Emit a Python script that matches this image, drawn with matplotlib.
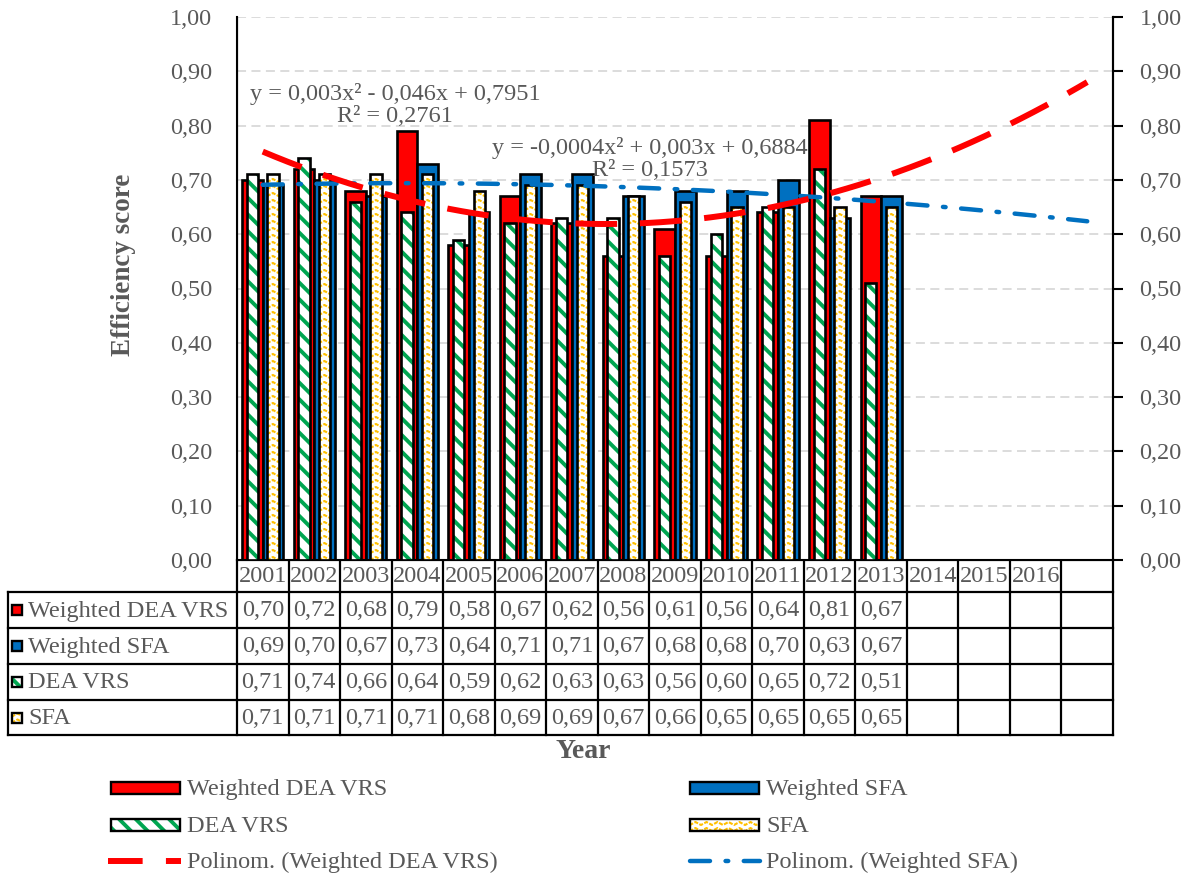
import numpy as np
import matplotlib.pyplot as plt
from matplotlib.patches import Rectangle

plt.rcParams['font.family'] = ['Liberation Serif', 'DejaVu Serif']
plt.rcParams['hatch.linewidth'] = 2.8

# data
years = [str(y) for y in range(2001, 2017)]
w_dea = [0.70, 0.72, 0.68, 0.79, 0.58, 0.67, 0.62, 0.56, 0.61, 0.56, 0.64, 0.81, 0.67]
w_sfa = [0.69, 0.70, 0.67, 0.73, 0.64, 0.71, 0.71, 0.67, 0.68, 0.68, 0.70, 0.63, 0.67]
dea = [0.71, 0.74, 0.66, 0.64, 0.59, 0.62, 0.63, 0.63, 0.56, 0.60, 0.65, 0.72, 0.51]
sfa = [0.71, 0.71, 0.71, 0.71, 0.68, 0.69, 0.69, 0.67, 0.66, 0.65, 0.65, 0.65, 0.65]
dea_trend = [0.003, -0.046, 0.7951]
sfa_trend = [-0.0004, 0.003, 0.6884]
names = ['Weighted DEA VRS', 'Weighted SFA', 'DEA VRS', 'SFA']
rows = [w_dea, w_sfa, dea, sfa]

RED = '#FF0000'
BLUE = '#0070C0'
GREEN = '#00A651'
YEL = '#FFC000'
GREY = '#595959'
FS = 17.5

W, H = 1182, 877
ncols = 17
fig = plt.figure(figsize=(W / 100, H / 100), dpi=100)

# overlay in pixel coords for table + legend
ov = fig.add_axes([0, 0, 1, 1])
ov.set_xlim(0, W)
ov.set_ylim(H, 0)
ov.axis('off')

ax = fig.add_axes([237 / W, 1 - 560 / H, 876 / W, 543 / H])
ax.set_xlim(0.5, ncols + 0.5)
ax.set_ylim(0, 1)
sx = 876 / ncols          # px per x unit
sy = 543.0                # px per y unit


def zigzag(x0, y0, wd, ht, px_x, px_y, period=11, amp=3.0, gap=7):
    # zigzag rows covering a rectangle, given px per data unit
    xs, ys = [], []
    n = int(abs(ht * px_y) / gap) + 2
    m = int(abs(wd * px_x) / (period / 2)) + 3
    gy = np.sign(ht) * gap / abs(px_y)
    ay = np.sign(ht) * amp / abs(px_y)
    for r in range(-1, n + 1):
        yb = y0 + r * gy
        for k in range(-1, m):
            xs.append(x0 + k * (period / 2) / px_x)
            ys.append(yb + (k % 2) * ay)
        xs.append(np.nan)
        ys.append(np.nan)
    return xs, ys


x = np.arange(1, len(w_dea) + 1)
bw, nw = 0.4, 0.22
ax.bar(x - 0.2, w_dea, bw, color=RED, edgecolor='black', lw=1.9, zorder=2)
ax.bar(x + 0.2, w_sfa, bw, color=BLUE, edgecolor='black', lw=1.9, zorder=2)
ax.bar(x - 0.2, dea, nw, color='white', edgecolor=GREEN, hatch='\\\\', lw=0, zorder=3)
ax.bar(x - 0.2, dea, nw, fill=False, edgecolor='black', lw=1.9, zorder=3.5)
ybars = ax.bar(x + 0.2, sfa, nw, color='white', lw=0, zorder=3)
for p in ybars.patches:
    zx, zy = zigzag(p.get_x(), 0, p.get_width(), p.get_height(), sx, sy)
    ln, = ax.plot(zx, zy, color=YEL, lw=1.5, ls=(0, (2, 0.7)), zorder=3.2)
    ln.set_clip_path(p)
ax.bar(x + 0.2, sfa, nw, fill=False, edgecolor='black', lw=1.9, zorder=3.5)

xt = np.linspace(1, ncols, 200)
ax.plot(xt, np.polyval(sfa_trend, xt), color=BLUE, lw=3.2,
        ls=(0, (4.5, 3.5, 0.6, 3.5)), zorder=5, dash_capstyle='round')
ax.plot(xt, np.polyval(dea_trend, xt), color=RED, lw=4.3, ls=(0, (7, 3.8)), zorder=6)

ticks = np.round(np.arange(0, 1.01, 0.1), 2)
ax.set_yticks(ticks)
ax.set_yticklabels([f"{t:.2f}".replace('.', ',') for t in ticks], fontsize=FS, color=GREY)
ax.tick_params(axis='y', length=0, pad=18)
ax.set_xticks([])
ax.yaxis.grid(True, ls=(0, (5, 3)), color='#D9D9D9', lw=1.3)
ax.set_axisbelow(True)
ax.spines['top'].set_visible(False)
for s in ['left', 'bottom', 'right']:
    ax.spines[s].set_linewidth(1.5)

ax2 = ax.twinx()
ax2.set_ylim(0, 1)
ax2.set_yticks(ticks)
ax2.set_yticklabels([f"{t:.2f}".replace('.', ',') for t in ticks], fontsize=FS, color=GREY)
ax2.tick_params(axis='y', length=7, width=1.5, direction='out', pad=12)
ax2.spines['top'].set_visible(False)
ax2.spines['right'].set_linewidth(1.5)

# trend equations
fig.text(395 / W, 1 - 94 / H, 'y = 0,003x² - 0,046x + 0,7951', ha='center', va='center',
         fontsize=FS, color=GREY)
fig.text(395 / W, 1 - 117 / H, 'R² = 0,2761', ha='center', va='center', fontsize=FS, color=GREY)
fig.text(650 / W, 1 - 148 / H, 'y = -0,0004x² + 0,003x + 0,6884', ha='center', va='center',
         fontsize=FS, color=GREY)
fig.text(650 / W, 1 - 170 / H, 'R² = 0,1573', ha='center', va='center', fontsize=FS, color=GREY)

fig.text(124 / W, 1 - 265 / H, 'Efficiency score', rotation=90, ha='center', va='center',
         fontsize=19.5, fontweight='bold', color=GREY)

# data table
x0 = 237
top, rh = 560, [592, 628, 664, 700, 735]
lw = 1.6
for i in range(ncols + 1):
    ov.plot([x0 + i * sx] * 2, [top, rh[-1]], color='black', lw=lw)
ov.plot([8, 8], [rh[0], rh[-1]], color='black', lw=lw)
for yy in rh:
    ov.plot([8, x0 + ncols * sx], [yy, yy], color='black', lw=lw)
for i, yr in enumerate(years):
    ov.text(x0 + (i + 0.5) * sx, (top + rh[0]) / 2 + 1, yr, ha='center', va='center',
            fontsize=FS, color=GREY)


def key(xk, yc, wk, hk, kind):
    r = Rectangle((xk, yc - hk / 2), wk, hk, fc='white', ec='none', zorder=3)
    ov.add_patch(r)
    if kind == 0:
        r.set_facecolor(RED)
    elif kind == 1:
        r.set_facecolor(BLUE)
    elif kind == 2:
        r.set_hatch('\\\\')
        r.set_edgecolor(GREEN)
        r.set_linewidth(0)
    else:
        zx, zy = zigzag(xk, yc + hk / 2, wk, -hk, 1, 1, period=11, amp=3, gap=6)
        ln, = ov.plot(zx, zy, color=YEL, lw=1.5, ls=(0, (2, 0.7)), zorder=4)
        ln.set_clip_path(r)
    ov.add_patch(Rectangle((xk, yc - hk / 2), wk, hk, fill=False, ec='black', lw=1.7, zorder=5))


for j, (nm, vals) in enumerate(zip(names, rows)):
    yc = (rh[j] + rh[j + 1]) / 2
    key(12, yc, 10, 10, j)
    ov.text(28, yc + 1, nm, ha='left', va='center', fontsize=FS, color=GREY)
    for i, v in enumerate(vals):
        ov.text(x0 + (i + 0.5) * sx, yc + 1, f"{v:.2f}".replace('.', ','), ha='center',
                va='center', fontsize=FS, color=GREY)

ov.text(583, 752, 'Year', ha='center', va='center', fontsize=20, fontweight='bold', color=GREY)

# legend
leg_y = [788, 825, 861]
for j, nm in enumerate(names):
    col, rw = j % 2, j // 2
    hx = 111 if col == 0 else 690
    key(hx, leg_y[rw], 69, 12, j)
    ov.text(hx + 76, leg_y[rw] + 1, nm, ha='left', va='center', fontsize=FS, color=GREY)
ov.plot([108, 181], [leg_y[2]] * 2, color=RED, lw=4.3, ls=(0, (5.8, 3.9)))
ov.text(187, leg_y[2] + 1, 'Polinom. (Weighted DEA VRS)', ha='left', va='center', fontsize=FS,
        color=GREY)
ov.plot([690, 760], [leg_y[2]] * 2, color=BLUE, lw=3.2, ls=(0, (4.5, 3.5, 0.6, 3.5)),
        dash_capstyle='round')
ov.text(766, leg_y[2] + 1, 'Polinom. (Weighted SFA)', ha='left', va='center', fontsize=FS,
        color=GREY)

fig.savefig('out.png', dpi=100)
